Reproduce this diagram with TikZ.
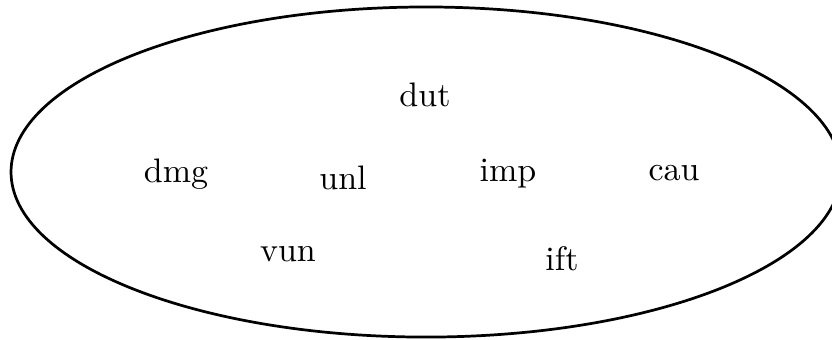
\documentclass[tikz,border=0pt]{standalone}
\usepackage{tikz}

\begin{document}
\begin{tikzpicture}[label/.style={font=\normalsize}]

\useasboundingbox (0,0) rectangle (8.6,-3.504);
\clip (0,0) rectangle (8.6,-3.504);

\draw[thick] (4.404,-1.778) ellipse (4.29 and 1.706);

\node[label] (dut) at (4.393,-0.98) {dut};
\node[label] (dmg) at (1.819,-1.80) {dmg};
\node[label] (unl) at (3.546,-1.84) {unl};
\node[label] (imp) at (5.251,-1.79) {imp};
\node[label] (cau) at (6.967,-1.79) {cau};
\node[label] (vun) at (2.977,-2.63) {vun};
\node[label] (ift) at (5.809,-2.67) {ift};

\end{tikzpicture}
\end{document}
